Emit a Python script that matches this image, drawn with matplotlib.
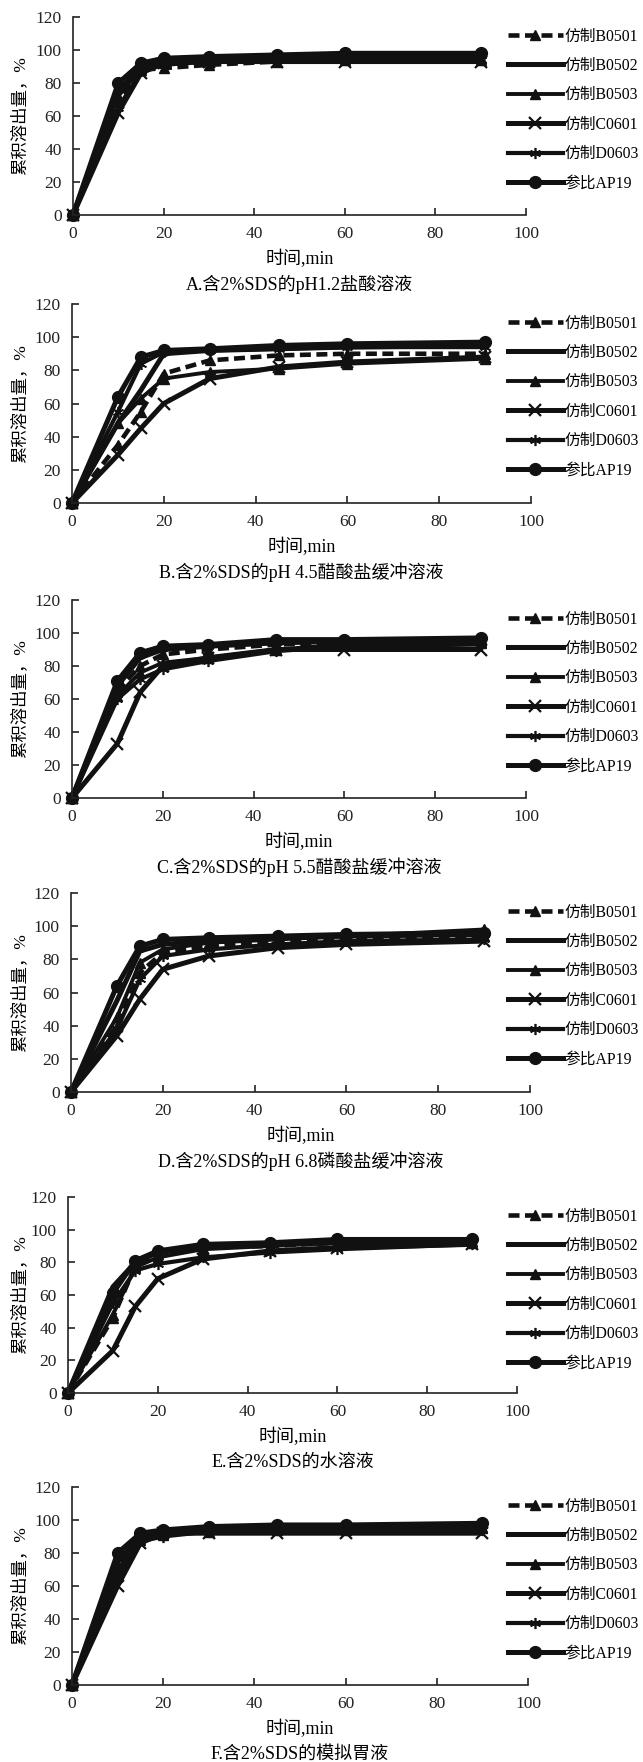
import matplotlib.pyplot as plt
from matplotlib.lines import Line2D

plt.rcParams['font.family'] = ['Liberation Serif', 'Noto Sans CJK SC', 'DejaVu Sans']

# 取样时间 (min)
time_min = [0, 10, 15, 20, 30, 45, 60, 90]
names = ['仿制B0501', '仿制B0502', '仿制B0503', '仿制C0601', '仿制D0603', '参比AP19']

# A. pH1.2 盐酸
a_b0501 = [0, 70, 88, 89, 91, 93, 94, 94]
a_b0502 = [0, 75, 90, 93, 94, 95, 96, 96]
a_b0503 = [0, 72, 89, 94, 96, 95, 95, 95]
a_c0601 = [0, 62, 86, 92, 93, 93, 93, 93]
a_d0603 = [0, 65, 87, 91, 93, 94, 94, 94]
a_ap19 = [0, 80, 92, 95, 96, 97, 98, 98]
# B. pH 4.5 醋酸盐
b_b0501 = [0, 35, 55, 78, 86, 89, 90, 90]
b_b0502 = [0, 48, 68, 90, 92, 93, 94, 95]
b_b0503 = [0, 48, 63, 75, 79, 81, 84, 87]
b_c0601 = [0, 29, 45, 60, 75, 82, 85, 88]
b_d0603 = [0, 55, 84, 91, 92, 93, 94, 94]
b_ap19 = [0, 64, 88, 92, 93, 95, 96, 97]
# C. pH 5.5 醋酸盐
c_b0501 = [0, 65, 80, 87, 90, 93, 94, 95]
c_b0502 = [0, 68, 85, 90, 92, 94, 95, 96]
c_b0503 = [0, 62, 76, 82, 85, 90, 93, 94]
c_c0601 = [0, 33, 64, 80, 85, 90, 90, 90]
c_d0603 = [0, 60, 72, 78, 83, 89, 92, 93]
c_ap19 = [0, 71, 88, 92, 93, 96, 96, 97]
# D. pH 6.8 磷酸盐
d_b0501 = [0, 40, 72, 84, 88, 91, 93, 94]
d_b0502 = [0, 55, 85, 89, 91, 93, 94, 95]
d_b0503 = [0, 45, 78, 86, 90, 92, 94, 98]
d_c0601 = [0, 34, 56, 74, 82, 87, 89, 91]
d_d0603 = [0, 38, 68, 82, 86, 89, 91, 92]
d_ap19 = [0, 64, 88, 92, 93, 94, 95, 96]
# E. 水
e_b0501 = [0, 46, 78, 85, 89, 90, 92, 92]
e_b0502 = [0, 65, 80, 86, 89, 91, 92, 92]
e_b0503 = [0, 48, 77, 83, 88, 90, 92, 93]
e_c0601 = [0, 26, 53, 70, 82, 87, 89, 91]
e_d0603 = [0, 55, 75, 79, 83, 86, 88, 91]
e_ap19 = [0, 61, 81, 87, 91, 92, 94, 94]
# F. 模拟胃液
f_b0501 = [0, 72, 90, 91, 93, 94, 94, 95]
f_b0502 = [0, 75, 90, 93, 94, 95, 95, 96]
f_b0503 = [0, 70, 88, 93, 95, 95, 96, 96]
f_c0601 = [0, 60, 86, 92, 92, 92, 92, 92]
f_d0603 = [0, 66, 87, 90, 93, 94, 94, 94]
f_ap19 = [0, 80, 92, 94, 96, 97, 97, 98]

panels = [
    ('A.含2%SDS的pH1.2盐酸溶液', [a_b0501, a_b0502, a_b0503, a_c0601, a_d0603, a_ap19]),
    ('B.含2%SDS的pH 4.5醋酸盐缓冲溶液', [b_b0501, b_b0502, b_b0503, b_c0601, b_d0603, b_ap19]),
    ('C.含2%SDS的pH 5.5醋酸盐缓冲溶液', [c_b0501, c_b0502, c_b0503, c_c0601, c_d0603, c_ap19]),
    ('D.含2%SDS的pH 6.8磷酸盐缓冲溶液', [d_b0501, d_b0502, d_b0503, d_c0601, d_d0603, d_ap19]),
    ('E.含2%SDS的水溶液', [e_b0501, e_b0502, e_b0503, e_c0601, e_d0603, e_ap19]),
    ('F.含2%SDS的模拟胃液', [f_b0501, f_b0502, f_b0503, f_c0601, f_d0603, f_ap19]),
]

# 每个子图的像素位置: left, right, top, bottom
boxes = [(73, 526, 17, 215), (72, 531, 304, 503), (72, 526, 600, 798),
         (71, 530, 893, 1092), (68, 517, 1197, 1393), (72, 528, 1487, 1685)]

styles = [
    dict(ls=(0, (2.4, 1.2)), lw=3.3, marker='^', ms=7.5),
    dict(ls='-', lw=3.6, marker=None, ms=0),
    dict(ls='-', lw=2.8, marker='^', ms=7.5),
    dict(ls='-', lw=3.6, marker='x', ms=9, mew=1.6),
    dict(ls='-', lw=3.0, marker=(6, 2, 0), ms=8, mew=1.2),
    dict(ls='-', lw=3.6, marker='o', ms=8.5),
]

W, H = 643, 1762
fig = plt.figure(figsize=(W / 100, H / 100), dpi=100)
col = '#111111'

for (cap, series), (l, r, t, b) in zip(panels, boxes):
    ax = fig.add_axes([l / W, 1 - b / H, (r - l) / W, (b - t) / H])
    handles = []
    for name, y, st in zip(names, series, styles):
        kw = dict(color=col, linestyle=st['ls'], linewidth=st['lw'], clip_on=False)
        if st['marker'] is not None:
            kw.update(marker=st['marker'], markersize=st['ms'], markeredgewidth=st.get('mew', 1.0))
        ax.plot(time_min, y, **kw)
        handles.append(Line2D([], [], label=name, **{k: v for k, v in kw.items() if k != 'clip_on'}))
    ax.set_xlim(0, 100)
    ax.set_ylim(0, 120)
    ax.set_xticks(range(0, 101, 20))
    ax.set_yticks(range(0, 121, 20))
    for s in ['top', 'right']:
        ax.spines[s].set_visible(False)
    for s in ['left', 'bottom']:
        ax.spines[s].set_linewidth(1.2)
        ax.spines[s].set_color('#222222')
    ax.tick_params(direction='in', length=5, width=1.2, labelsize=12.5, colors='#222222')
    ax.tick_params(axis='y', pad=8)
    ax.tick_params(axis='x', pad=8)
    ax.patch.set_alpha(0)

    cx = (l + r) / 2 / W
    fig.text(cx, 1 - (b + 44) / H, '时间,min', ha='center', va='center', fontsize=13)
    fig.text(cx, 1 - (b + 69) / H, cap, ha='center', va='center', fontsize=13)
    fig.text(20 / W, 1 - (t + b) / 2 / H, '累积溶出量，%', rotation=90,
             ha='center', va='center', fontsize=12.5)

    ax.legend(handles=handles, loc='center left', frameon=False,
              bbox_to_anchor=(508 / W, 1 - (t + 93) / H), bbox_transform=fig.transFigure,
              fontsize=11.3, handlelength=3.5, handletextpad=0.1,
              labelspacing=0.85, borderpad=0, borderaxespad=0)

fig.savefig('out.png', dpi=100)
